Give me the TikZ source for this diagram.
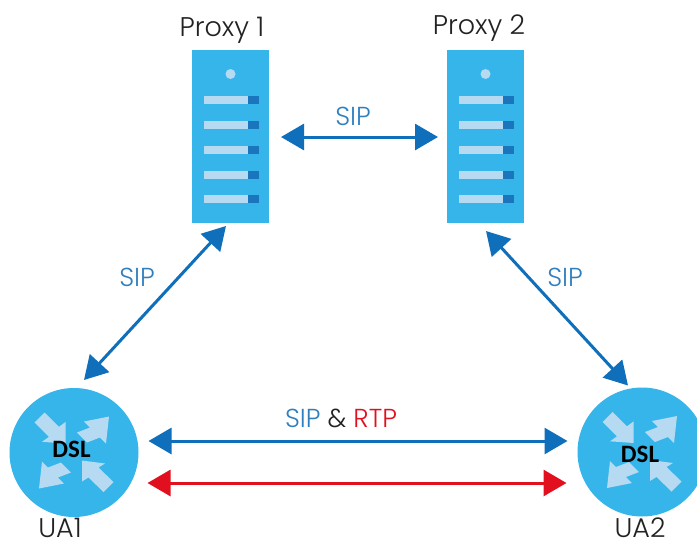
\documentclass[tikz,border=0pt]{standalone}
\usepackage{fontspec}
\setmainfont{Poppins}[UprightFont=* Light]
\newfontfamily\dslfont{Carlito}
\usetikzlibrary{arrows.meta,calc}
\definecolor{srvblue}{HTML}{35B5EA}
\definecolor{barlight}{HTML}{B5DAF2}
\definecolor{bardark}{HTML}{1B75BC}
\definecolor{linkblue}{HTML}{0F6FBA}
\definecolor{textblue}{HTML}{2F7FBF}
\definecolor{linkred}{HTML}{E2101F}
\definecolor{inkdark}{HTML}{222222}
\tikzset{
  serverbox/.style={fill=srvblue,minimum width=77pt,minimum height=173pt,inner sep=0pt,outer sep=0pt},
  routerdisc/.style={circle,fill=srvblue,minimum size=129pt,inner sep=0pt,outer sep=0pt},
  namelabel/.style={font=\fontsize{27}{27}\selectfont,text=inkdark,inner sep=0pt},
  siplabel/.style={font=\fontsize{26}{26}\selectfont,text=textblue,inner sep=0pt},
  dsllabel/.style={font=\dslfont\bfseries\fontsize{25}{25}\selectfont,text=black,inner sep=0pt},
  bothtips/.style={{Triangle[length=23pt,width=26pt]}-{Triangle[length=23pt,width=26pt]},line width=3pt},
  bluelink/.style={bothtips,draw=linkblue,fill=linkblue},
  redlink/.style={bothtips,draw=linkred,fill=linkred},
  pics/serverdetail/.style={code={
    \fill[barlight] (0,-62.5) circle (5);
    \foreach \dy in {-36.5,-11.5,13,38,62.5}{
      \fill[barlight] (-27,\dy-4) rectangle (17.5,\dy+4);
      \fill[bardark] (17.5,\dy-4) rectangle (28.5,\dy+4);
    }
  }},
  pics/routerarrows/.style={code={
    \fill[barlight] (-39.5,-30)--(-29.5,-40)--(-15,-25.7)--(-8.3,-30.7)--(-8.3,-9)--(-32,-10.7)--(-25,-15.7)--cycle;
    \fill[barlight] (39.5,29.5)--(29.5,39.5)--(14.5,25)--(8,29)--(8,8)--(31,11)--(24.5,15)--cycle;
    \fill[barlight] (13,-10)--(3,-20)--(16,-25)--(10,-31)--(35,-36)--(32,-9)--(26,-15)--cycle;
    \fill[barlight] (-13,10)--(-3,20)--(-16,25)--(-10,31)--(-35,36)--(-32,9)--(-26,15)--cycle;
  }}
}
\begin{document}
\begin{tikzpicture}[x=1pt,y=-1pt]
\useasboundingbox (0,0) rectangle (697,544);
\clip (0,0) rectangle (697,544);
\fill[white] (0,0) rectangle (697,544);
\node[serverbox] (srv1) at (230.5,136.5) {};
\node[serverbox] (srv2) at (485.5,136.5) {};
\pic at (srv1) {serverdetail};
\pic at (srv2) {serverdetail};
\node[routerdisc] (ua1) at (74,452.5) {};
\node[routerdisc] (ua2) at (642,452) {};
\pic at (ua1) {routerarrows};
\pic at (ua2) {routerarrows};
\node[namelabel,anchor=base] (lp1) at (222,36) {Proxy 1};
\node[namelabel,anchor=base] (lp2) at (479,34) {Proxy 2};
\node[namelabel,anchor=base] (lu1) at (60,537) {UA1};
\node[namelabel,anchor=base] (lu2) at (640,537) {UA2};
\node[dsllabel] (d1) at (71.5,449) {DSL};
\node[dsllabel] (d2) at (640,454) {DSL};
\node[siplabel] (s1) at (353,116) {SIP};
\node[siplabel] (s2) at (137,277) {SIP};
\node[siplabel] (s3) at (565,277) {SIP};
\node[siplabel] (s4) at (341,418) {SIP \textcolor{inkdark}{\&} \textcolor{linkred}{RTP}};
\draw[bluelink] ($(srv1.east)+(12,0.5)$) -- ($(srv2.west)+(-9,0.5)$);
\draw[bluelink] ($(srv1.south)+(-4.5,3)$) -- ($(ua1.north)+(10,-8)$);
\draw[bluelink] ($(srv2.south)+(0.5,8)$) -- ($(ua2.north)+(-14,-2)$);
\draw[bluelink] ($(ua1.east)+(10,-11.5)$) -- ($(ua2.west)+(-10,-11)$);
\draw[redlink] ($(ua1.east)+(9,30.5)$) -- ($(ua2.west)+(-11,31)$);
\end{tikzpicture}
\end{document}
